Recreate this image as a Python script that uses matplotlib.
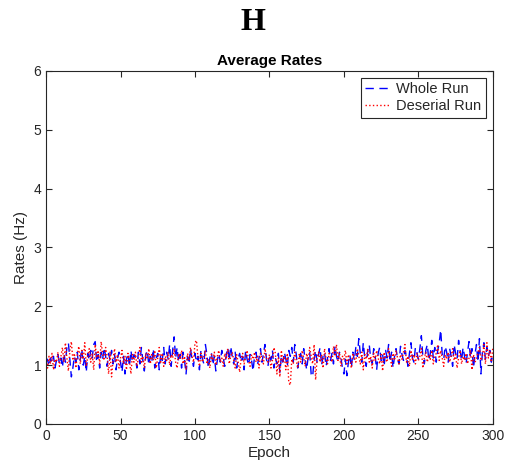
import numpy as np
import matplotlib
matplotlib.use("Agg")
import matplotlib.pyplot as plt

plt.rcParams['font.family'] = ['Liberation Sans', 'DejaVu Sans']

# average rate per epoch (Hz)
whole_run = [
    1.05, 1.10, 0.98, 1.12, 1.04, 1.15, 0.95, 1.08, 1.18, 1.02,
    1.12, 0.96, 1.20, 1.05, 1.30, 1.38, 1.10, 0.80, 0.95, 1.15,
    1.05, 1.22, 0.92, 1.10, 1.28, 1.00, 1.15, 0.88, 1.20, 1.08,
    1.25, 1.12, 1.35, 1.40, 1.05, 1.18, 0.95, 1.22, 1.10, 1.30,
    1.15, 0.98, 1.20, 1.08, 1.25, 1.02, 1.18, 0.92, 1.12, 1.22,
    1.05, 0.88, 1.15, 0.85, 1.10, 1.20, 0.98, 1.25, 1.05, 1.18,
    1.12, 0.95, 1.22, 1.02, 1.30, 1.08, 0.90, 1.18, 1.25, 1.00,
    1.15, 1.05, 1.28, 0.95, 1.12, 1.20, 0.92, 1.18, 1.08, 1.30,
    1.02, 1.22, 1.10, 1.35, 0.98, 1.25, 1.48, 1.12, 1.30, 1.05,
    1.18, 0.95, 1.22, 1.08, 0.85, 1.15, 1.02, 1.28, 1.10, 0.98,
    1.20, 1.05, 1.15, 0.92, 1.25, 1.10, 1.02, 1.35, 1.18, 0.95,
    1.12, 1.22, 1.00, 1.15, 0.90, 1.08, 1.20, 1.05, 1.25, 1.12,
    0.98, 1.18, 1.30, 1.08, 1.32, 1.15, 1.02, 1.22, 0.95, 1.12,
    1.20, 1.05, 1.15, 0.92, 1.25, 1.10, 1.00, 1.18, 1.08, 0.90,
    1.15, 1.22, 1.02, 1.12, 1.28, 1.05, 1.20, 1.35, 1.10, 0.98,
    1.18, 1.08, 1.25, 0.95, 1.12, 1.02, 1.20, 0.88, 1.15, 1.05,
    1.22, 1.10, 0.98, 1.25, 1.15, 1.30, 1.05, 1.35, 1.18, 0.95,
    1.12, 1.20, 1.02, 1.28, 1.08, 0.92, 1.15, 1.22, 0.85, 0.80,
    1.10, 1.25, 1.05, 1.18, 1.30, 1.00, 1.15, 1.22, 0.98, 1.12,
    1.28, 1.08, 1.20, 1.02, 1.32, 1.15, 1.05, 1.22, 1.12, 0.95,
    0.85, 1.10, 0.82, 1.05, 1.18, 0.95, 1.22, 1.08, 1.30, 1.15,
    1.45, 1.20, 1.05, 1.38, 1.12, 0.98, 1.25, 1.35, 1.10, 1.02,
    1.28, 1.15, 0.92, 1.20, 1.30, 1.08, 1.18, 0.98, 1.25, 1.12,
    1.35, 1.05, 1.22, 0.95, 1.15, 1.28, 1.10, 1.02, 1.32, 1.18,
    1.08, 1.25, 1.15, 0.98, 1.20, 1.38, 1.12, 1.05, 1.30, 1.22,
    1.10, 1.28, 1.50, 1.15, 1.02, 1.25, 1.35, 1.08, 1.20, 1.42,
    1.12, 1.30, 1.05, 1.25, 1.38, 1.60, 1.18, 1.10, 1.32, 1.22,
    1.05, 1.28, 1.15, 0.98, 1.35, 1.20, 1.10, 1.42, 1.25, 1.08,
    1.30, 1.15, 1.02, 1.22, 1.40, 1.12, 1.28, 0.95, 1.18, 1.35,
    1.05, 1.45, 0.85, 1.22, 1.38, 1.10, 1.30, 1.15, 1.25, 1.05,
    1.20,
]

deserial_run = [
    1.08, 0.95, 1.15, 1.02, 1.20, 0.92, 1.10, 1.05, 1.22, 0.98,
    1.15, 1.30, 1.05, 1.38, 1.12, 0.90, 1.25, 1.40, 1.08, 1.20,
    0.95, 1.18, 1.32, 1.02, 1.25, 1.10, 1.38, 0.98, 1.15, 1.28,
    1.05, 1.20, 0.92, 1.35, 1.12, 1.25, 1.02, 1.40, 1.18, 1.08,
    1.30, 1.15, 0.85, 1.22, 0.80, 1.10, 1.28, 1.05, 1.18, 0.95,
    1.12, 1.25, 1.02, 1.15, 0.92, 1.20, 1.08, 0.85, 1.18, 1.05,
    1.22, 0.98, 1.12, 1.30, 1.05, 1.15, 0.95, 1.20, 1.10, 1.28,
    1.02, 1.18, 1.08, 1.25, 0.95, 1.12, 1.30, 1.05, 1.20, 0.98,
    1.15, 1.08, 1.22, 1.00, 1.18, 1.12, 1.28, 1.05, 0.95, 1.20,
    1.10, 1.25, 1.02, 1.15, 0.92, 1.20, 1.08, 1.30, 1.15, 1.05,
    1.38, 1.42, 1.12, 0.98, 1.20, 1.05, 1.15, 1.25, 1.02, 1.10,
    0.95, 1.18, 1.08, 1.22, 1.00, 1.15, 1.25, 1.05, 1.12, 0.98,
    1.20, 1.10, 1.28, 1.02, 1.15, 1.22, 1.08, 0.95, 1.18, 1.05,
    0.88, 1.12, 1.20, 1.02, 1.15, 1.25, 1.08, 0.98, 1.18, 1.10,
    1.22, 1.05, 1.15, 0.95, 1.20, 1.10, 1.02, 1.28, 1.12, 1.05,
    1.18, 0.95, 1.08, 1.30, 1.20, 0.85, 1.12, 0.80, 1.25, 1.05,
    1.15, 0.92, 1.20, 0.70, 0.66, 1.10, 1.02, 1.22, 1.08, 0.95,
    1.18, 1.05, 1.25, 1.12, 0.98, 1.20, 1.08, 1.30, 1.15, 1.02,
    1.35, 0.75, 1.12, 1.22, 1.05, 1.18, 0.95, 1.28, 1.10, 1.02,
    1.20, 1.12, 1.05, 1.32, 1.15, 1.35, 1.08, 1.22, 0.98, 1.15,
    1.10, 1.25, 1.02, 1.18, 1.08, 0.95, 1.20, 1.12, 1.05, 1.28,
    1.15, 1.02, 1.22, 0.92, 1.18, 1.10, 1.28, 1.05, 1.15, 0.95,
    1.20, 1.08, 1.25, 1.12, 1.02, 1.18, 0.90, 1.22, 1.10, 1.05,
    1.28, 1.15, 0.98, 1.20, 1.08, 1.25, 1.12, 1.02, 1.18, 1.10,
    1.22, 1.35, 1.05, 1.15, 0.98, 1.25, 1.10, 1.18, 1.02, 1.20,
    1.08, 1.15, 1.28, 0.95, 1.12, 1.22, 1.05, 1.18, 1.10, 1.25,
    1.02, 1.15, 1.20, 1.35, 1.08, 1.25, 1.12, 0.98, 1.18, 1.10,
    1.22, 1.05, 1.15, 1.28, 1.08, 1.18, 0.95, 1.12, 1.25, 1.02,
    1.15, 1.08, 1.20, 1.02, 1.12, 1.25, 0.92, 1.18, 1.05, 1.10,
    1.22, 1.30, 1.08, 1.15, 1.35, 1.02, 1.38, 1.12, 1.25, 1.05,
    1.30,
]

epochs = np.arange(len(whole_run))
axcol = '#262626'

fig = plt.figure(figsize=(5.06, 4.69), dpi=100)
ax = fig.add_axes([0.091, 0.096, 0.883, 0.753])

ax.plot(epochs, whole_run, color='blue', ls='--', lw=1.0, dashes=(6, 4), label='Whole Run')
ax.plot(epochs, deserial_run, color='red', ls=':', lw=1.0, label='Deserial Run')

ax.set_xlim(0, 300)
ax.set_ylim(0, 6)
ax.set_xticks(np.arange(0, 301, 50))
ax.set_yticks(np.arange(0, 7, 1))
ax.tick_params(direction='in', top=True, right=True, labelsize=10, length=4,
               color=axcol, labelcolor=axcol)
for s in ax.spines.values():
    s.set_linewidth(0.8)
    s.set_color(axcol)

ax.set_xlabel('Epoch', fontsize=11, labelpad=2, color=axcol)
ax.set_ylabel('Rates (Hz)', fontsize=11, labelpad=4, color=axcol)
ax.set_title('Average Rates', fontsize=11, fontweight='bold', pad=4)
fig.text(0.5, 0.953, 'H', ha='center', va='center', fontsize=23,
         fontweight='bold', family=['Liberation Serif', 'DejaVu Serif'])

leg = ax.legend(loc='upper right', fontsize=10.5, fancybox=False, framealpha=1,
                edgecolor=axcol, borderaxespad=0.5, handlelength=1.6,
                borderpad=0.3, labelspacing=0.2, handletextpad=0.5)
leg.get_frame().set_linewidth(0.8)
for t in leg.get_texts():
    t.set_color(axcol)

fig.savefig('out.png', dpi=100)
